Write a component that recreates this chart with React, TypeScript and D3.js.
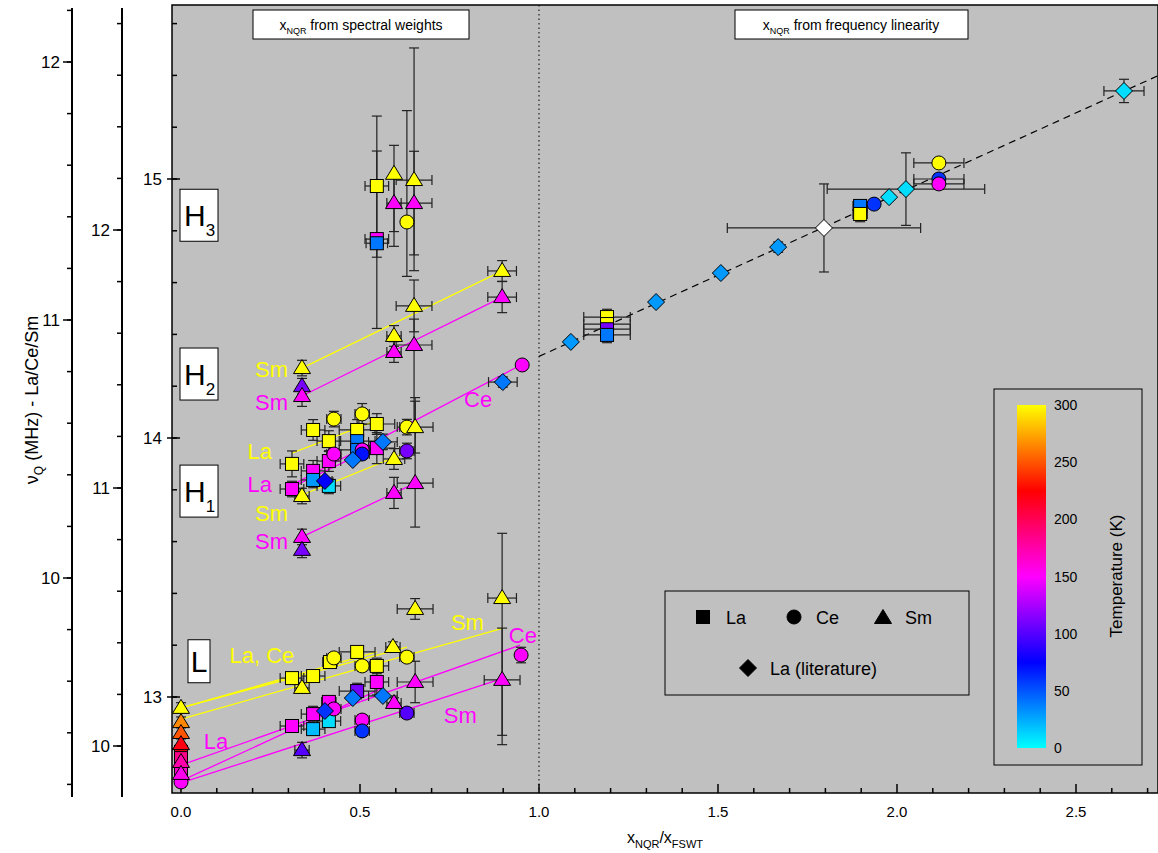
import React from "react";
import * as d3 from "d3";

// [x, nu, T, xerr, yerrLo, yerrHi]  (T<0 => white)
type P = [number, number, number, number?, number?, number?];

const squaresLa: P[] = [
  [0.547,14.973,300,0.033,0.55,0.27],[0.547,14.768,150,0.033,0.07,0.34],[0.547,14.752,40,0.03,0,0],
  [0.369,14.031,300,0.033,0.04,0.04],[0.492,14.031,300,0.05,0.04,0.04],[0.547,14.054,300,0.05,0.04,0.04],
  [0.413,13.988,300,0.033,0.04,0.04],[0.492,13.988,40,0.05,0.03,0.03],[0.492,13.954,40,0.05,0.03,0.03],
  [0.547,13.961,150,0.05,0.06,0.06],[0.413,13.911,150,0.033,0.04,0.04],[0.31,13.9,300,0.033,0.05,0.05],
  [0.369,13.873,150,0.033,0.04,0.04],[0.369,13.838,30,0.033,0.03,0.03],[0.413,13.815,10,0.033,0.03,0.03],
  [0.31,13.803,150,0.033,0.03,0.03],
  [0,12.788,220,0,0.02,0.02],[0,12.764,185,0,0.02,0.02],[0,12.722,165,0,0.02,0.02],
  [0.31,13.073,300,0.033,0.02,0.02],[0.369,13.081,300,0.033,0.02,0.02],[0.416,13.135,300,0.02,0.02,0.02],
  [0.492,13.174,300,0.05,0.02,0.02],[0.547,13.12,300,0.033,0.03,0.03],[0.547,13.058,150,0.033,0.05,0.05],
  [0.492,13.023,110,0.05,0.03,0.03],[0.413,12.981,150,0.02,0.02,0.02],[0.369,12.934,150,0.033,0.03,0.03],
  [0.413,12.907,10,0.033,0.02,0.02],[0.369,12.876,20,0.033,0.02,0.02],[0.31,12.888,150,0.033,0.02,0.02],
  [1.19,14.467,300,0.065,0.03,0.03],[1.19,14.44,300,0.065,0.02,0.02],[1.19,14.42,110,0.065,0.02,0.02],
  [1.19,14.398,40,0.065,0.03,0.03],[1.897,14.896,40,0.02,0.02,0.02],[1.897,14.865,300,0.02,0.03,0.03],
];

const circlesCe: P[] = [
  [0.631,14.834,300,0.01,0.21,0.43],
  [0.427,14.073,300,0.02,0.03,0.03],[0.506,14.093,300,0.02,0.04,0.04],[0.631,14.042,300,0.02,0.03,0.03],
  [0.427,13.938,150,0.02,0.02,0.02],[0.506,13.954,150,0.02,0.02,0.02],[0.506,13.938,70,0.02,0.02,0.02],
  [0.631,13.95,110,0.02,0.03,0.03],[0.953,14.282,150,0,0,0],
  [0,12.672,150,0,0.02,0.02],[0.427,13.151,300,0.02,0.02,0.02],[0.506,13.12,300,0.02,0.02,0.02],
  [0.631,13.154,300,0.02,0.02,0.02],[0.427,12.954,150,0.02,0.02,0.02],[0.631,12.938,100,0.02,0.02,0.02],
  [0.506,12.911,150,0.02,0.02,0.02],[0.506,12.869,60,0.02,0.02,0.02],[0.95,13.162,150,0,0.03,0.03],
  [1.936,14.903,60,0,0,0],[2.117,15.062,300,0.07,0,0],[2.117,15.0,60,0.07,0.02,0.02],[2.117,14.981,150,0.07,0.02,0.02],
];

const trianglesSm: P[] = [
  [0.595,15.02,300,0,0.28,0.11],[0.595,14.907,150,0.02,0.11,0.11],[0.651,14.996,300,0.05,0.35,0.51],
  [0.651,14.907,150,0.05,0.2,0.2],[0.651,14.51,300,0.05,0.1,0.1],[0.651,14.359,150,0.05,0.33,0.1],
  [0.595,14.394,300,0.02,0.04,0.04],[0.595,14.332,150,0.02,0.04,0.04],[0.897,14.645,300,0.04,0.04,0.04],
  [0.897,14.544,150,0.04,0.06,0.06],[0.338,14.27,300,0,0.03,0.03],[0.338,14.2,110,0,0.03,0.03],
  [0.338,14.162,150,0,0.04,0.04],
  [0.654,14.042,300,0.05,0.1,0.1],[0.595,13.919,300,0.03,0.04,0.04],[0.338,13.776,300,0.02,0.03,0.03],
  [0.595,13.788,150,0.02,0.06,0.06],[0.654,13.826,150,0.05,0.17,0.33],[0.338,13.618,150,0,0.03,0.03],
  [0.338,13.568,110,0,0.03,0.03],
  [0,12.958,300,0,0.02,0.02],[0,12.903,265,0,0.02,0.02],[0,12.861,250,0,0.02,0.02],[0,12.818,220,0,0.02,0.02],
  [0,12.749,175,0,0.02,0.02],[0,12.703,155,0,0.02,0.02],[0.338,13.035,300,0.02,0.02,0.02],
  [0.592,13.193,300,0.02,0.02,0.02],[0.654,13.34,300,0.05,0.04,0.04],[0.897,13.382,300,0.04,0.53,0.25],
  [0.654,13.058,150,0.05,0.08,0.08],[0.595,12.977,150,0.02,0.02,0.02],[0.338,12.795,100,0.02,0.03,0.03],
  [0.897,13.066,150,0.05,0.25,0.2],
];

const diamondsLit: P[] = [
  [0.899,14.216,40,0.04,0.02,0.02],[0.564,13.985,40,0.04,0.03,0.03],[0.402,13.834,75,0.02,0,0],
  [0.48,13.915,40,0,0,0],[0.48,12.996,40,0,0,0],[0.564,13.004,40,0.04,0,0],[0.402,12.946,60,0,0,0],
  [1.089,14.371,30,0,0,0],[1.327,14.525,30,0,0,0],[1.508,14.637,30,0,0,0],[1.668,14.737,30,0,0.02,0.02],
  [1.796,14.811,-1,0.27,0.17,0.17],[1.978,14.93,10,0,0.01,0.01],[2.025,14.961,10,0.22,0.14,0.14],
  [2.634,15.34,10,0.056,0.045,0.045],
];

// fit lines [x1, y1, x2, y2]
const fitsYellow: number[][] = [
  [0.338,14.27,0.897,14.645],[0.31,13.942,0.536,14.062],[0.338,13.78,0.654,13.958],
  [0,12.958,0.631,13.193],[0,12.958,0.547,13.174],[0,12.915,0.9,13.266],
];
const fitsMagenta: number[][] = [
  [0.338,14.162,0.897,14.544],[0.31,13.819,0.95,14.282],[0.31,13.81,0.58,13.99],
  [0.338,13.618,0.654,13.826],[0,12.737,0.947,13.2],[0,12.676,0.564,13.035],[0,12.668,0.886,13.066],
];
const trendLine = [1.0, 14.315, 2.75, 15.412];

// annotation labels [text, x, nu, colour]
const annotations: [string, number, number, string][] = [
  ["Sm",0.253,14.235,"#ffff00"],["Sm",0.253,14.108,"#ff00ff"],["La",0.22,13.92,"#ffff00"],
  ["La",0.22,13.79,"#ff00ff"],["Sm",0.253,13.68,"#ffff00"],["Sm",0.253,13.57,"#ff00ff"],
  ["Ce",0.83,14.12,"#ff00ff"],["La, Ce",0.226,13.13,"#ffff00"],["Sm",0.8,13.26,"#ffff00"],
  ["Ce",0.955,13.21,"#ff00ff"],["La",0.098,12.8,"#ff00ff"],["Sm",0.78,12.9,"#ff00ff"],
];
const regionBoxes: [string, string, number][] = [["H","3",14.86],["H","2",14.247],["H","1",13.795],["L","",13.14]];

const xTicks = [0, 0.5, 1.0, 1.5, 2.0, 2.5];
const yTicks = [13, 14, 15];
const axis2Ticks = [10, 11, 12];
const cbTicks = [0, 50, 100, 150, 200, 250, 300];

const W = 1158, H = 853;
const L = 172, R = 1158, T = 5, B = 793;
const x = d3.scaleLinear().domain([0, 1]).range([181, 539]);
const y = d3.scaleLinear().domain([13, 14]).range([697, 438]);
const yOuter = d3.scaleLinear().domain([10, 12]).range([578, 62]);
const yMid = d3.scaleLinear().domain([10, 12]).range([746, 230]);
const color = d3.scaleLinear<string>().domain([0, 75, 150, 225, 300])
  .range(["#00ffff", "#0000ff", "#ff00ff", "#ff0000", "#ffff00"]);
const cbY = d3.scaleLinear().domain([0, 300]).range([748, 405]);
const F = "Arial, 'Liberation Sans', sans-serif";

function marker(shape: string, cx: number, cy: number, fill: string, key: any) {
  const s = 7.5;
  if (shape === "sq") return <rect key={key} x={cx - s + 1} y={cy - s + 1} width={2 * s - 2} height={2 * s - 2} fill={fill} stroke="#000" />;
  if (shape === "ci") return <circle key={key} cx={cx} cy={cy} r={s - 0.5} fill={fill} stroke="#000" />;
  if (shape === "tr") return <path key={key} d={`M${cx},${cy - s - 1}L${cx + s + 1},${cy + s - 2}L${cx - s - 1},${cy + s - 2}Z`} fill={fill} stroke="#000" />;
  return <path key={key} d={`M${cx},${cy - s - 1}L${cx + s + 1},${cy}L${cx},${cy + s + 1}L${cx - s - 1},${cy}Z`} fill={fill} stroke="#000" />;
}

function errBars(d: P, k: string) {
  const [px, py, , xe = 0, yl = 0, yh = 0] = d;
  const cx = x(px), cy = y(py);
  const out: any[] = [];
  const st = { stroke: "#222", strokeWidth: 1.2 };
  if (xe > 0) {
    out.push(<line key={k + "x"} x1={x(px - xe)} x2={x(px + xe)} y1={cy} y2={cy} {...st} />);
    out.push(<line key={k + "xa"} x1={x(px - xe)} x2={x(px - xe)} y1={cy - 5} y2={cy + 5} {...st} />);
    out.push(<line key={k + "xb"} x1={x(px + xe)} x2={x(px + xe)} y1={cy - 5} y2={cy + 5} {...st} />);
  }
  if (yl > 0 || yh > 0) {
    out.push(<line key={k + "y"} x1={cx} x2={cx} y1={y(py - yl)} y2={y(py + yh)} {...st} />);
    out.push(<line key={k + "ya"} x1={cx - 5} x2={cx + 5} y1={y(py - yl)} y2={y(py - yl)} {...st} />);
    out.push(<line key={k + "yb"} x1={cx - 5} x2={cx + 5} y1={y(py + yh)} y2={y(py + yh)} {...st} />);
  }
  return out;
}

function sideAxis(ax: number, sc: d3.ScaleLinear<number, number>, ticks: number[], key: string) {
  const [d0, d1] = [sc.invert(797), sc.invert(8)];
  const minors = d3.range(Math.ceil(d0 * 5) / 5, d1, 0.2);
  return (
    <g key={key}>
      <line x1={ax} x2={ax} y1={8} y2={797} stroke="#000" strokeWidth={2} />
      {minors.map((v, i) => <line key={i} x1={ax - 5} x2={ax} y1={sc(v)} y2={sc(v)} stroke="#000" strokeWidth={1.5} />)}
      {ticks.map(v => (
        <g key={v}>
          <line x1={ax - 9} x2={ax} y1={sc(v)} y2={sc(v)} stroke="#000" strokeWidth={1.5} />
          <text x={ax - 12} y={sc(v) + 6} textAnchor="end" fontSize={17} fontFamily={F}>{v}</text>
        </g>
      ))}
    </g>
  );
}

export default function App() {
  const groups: [string, P[]][] = [["sq", squaresLa], ["ci", circlesCe], ["tr", trianglesSm], ["di", diamondsLit]];
  const xMinor = d3.range(0, 2.75, 0.1);
  const yMinor = d3.range(12.8, 15.61, 0.2);
  return (
    <svg width={W} height={H} style={{ position: "fixed", left: 0, top: 0, background: "#fff" }}>
      <defs>
        <clipPath id="pc"><rect x={L} y={T} width={R - L} height={B - T} /></clipPath>
        <linearGradient id="cb" x1="0" y1="1" x2="0" y2="0">
          {[0, 75, 150, 225, 300].map(t => <stop key={t} offset={t / 300} stopColor={color(t)} />)}
        </linearGradient>
      </defs>
      <rect x={L} y={T} width={R - L} height={B - T} fill="#c0c0c0" stroke="#000" strokeWidth={1.5} />
      {sideAxis(72, yOuter, axis2Ticks, "o")}
      {sideAxis(122, yMid, axis2Ticks, "m")}
      {xMinor.map((v, i) => <line key={"xm" + i} x1={x(v)} x2={x(v)} y1={B} y2={B - (Math.abs(v * 2 - Math.round(v * 2)) < 1e-6 ? 9 : 5)} stroke="#000" strokeWidth={1.5} />)}
      {xTicks.map(v => <text key={"xt" + v} x={x(v)} y={B + 24} textAnchor="middle" fontSize={15} fontFamily={F}>{v.toFixed(1)}</text>)}
      {yMinor.map((v, i) => <line key={"ym" + i} x1={L} x2={L + 5} y1={y(v)} y2={y(v)} stroke="#000" strokeWidth={1.5} />)}
      {yTicks.map(v => (
        <g key={"yt" + v}>
          <line x1={L - 5} x2={L + 8} y1={y(v)} y2={y(v)} stroke="#000" strokeWidth={1.5} />
          <text x={L - 10} y={y(v) + 6} textAnchor="end" fontSize={17} fontFamily={F}>{v}</text>
        </g>
      ))}
      <text x={665} y={843} textAnchor="middle" fontSize={16} fontFamily={F}>x<tspan fontSize={11} dy={5}>NQR</tspan><tspan dy={-5}>/x</tspan><tspan fontSize={11} dy={5}>FSWT</tspan></text>
      <text transform="translate(38,400) rotate(-90)" textAnchor="middle" fontSize={18} fontFamily={F}>ν<tspan fontSize={12} dy={5}>Q</tspan><tspan dy={-5}> (MHz) - La/Ce/Sm</tspan></text>

      <g clipPath="url(#pc)">
        <line x1={x(1)} x2={x(1)} y1={T} y2={B} stroke="#000" strokeDasharray="1.5,3" />
        <line x1={x(trendLine[0])} y1={y(trendLine[1])} x2={x(trendLine[2])} y2={y(trendLine[3])} stroke="#000" strokeDasharray="7,5" strokeWidth={1.2} />
        {fitsYellow.map((f, i) => <line key={"fy" + i} x1={x(f[0])} y1={y(f[1])} x2={x(f[2])} y2={y(f[3])} stroke="#ffff00" strokeWidth={1.3} />)}
        {fitsMagenta.map((f, i) => <line key={"fm" + i} x1={x(f[0])} y1={y(f[1])} x2={x(f[2])} y2={y(f[3])} stroke="#ff00ff" strokeWidth={1.3} />)}
        {groups.map(([s, arr]) => arr.map((d, i) => errBars(d, s + i)))}
        {groups.map(([s, arr]) => arr.map((d, i) => marker(s, x(d[0]), y(d[1]), d[2] < 0 ? "#ffffff" : color(d[2]), s + "m" + i)))}
        {annotations.map(([t, ax, ay, c], i) => <text key={"an" + i} x={x(ax)} y={y(ay)} fill={c} fontSize={22} fontFamily={F} textAnchor="middle">{t}</text>)}
      </g>

      {regionBoxes.map(([a, sub, v]) => (
        a === "L" ? (
          <g key={a}>
            <rect x={188} y={y(v) - 21} width={22} height={43} fill="#fff" stroke="#000" />
            <text x={199} y={y(v) + 11} textAnchor="middle" fontSize={30} fontFamily={F}>L</text>
          </g>
        ) : (
          <g key={a + sub}>
            <rect x={180} y={y(v) - 26} width={38} height={52} fill="#fff" stroke="#000" />
            <text x={184} y={y(v) + 11} fontSize={30} fontFamily={F}>{a}<tspan fontSize={17} dy={10}>{sub}</tspan></text>
          </g>
        )
      ))}

      <rect x={253} y={10} width={216} height={29} fill="#fff" stroke="#000" />
      <text x={361} y={30} textAnchor="middle" fontSize={14} fontFamily={F}>x<tspan fontSize={9} dy={4}>NQR</tspan><tspan dy={-4}> from spectral weights</tspan></text>
      <rect x={735} y={10} width={233} height={29} fill="#fff" stroke="#000" />
      <text x={851} y={30} textAnchor="middle" fontSize={14} fontFamily={F}>x<tspan fontSize={9} dy={4}>NQR</tspan><tspan dy={-4}> from frequency linearity</tspan></text>

      <rect x={665} y={591} width={304} height={104} fill="none" stroke="#000" />
      {marker("sq", 703, 617, "#000", "l1")}
      <text x={726} y={624} fontSize={18} fontFamily={F}>La</text>
      {marker("ci", 794, 617, "#000", "l2")}
      <text x={816} y={624} fontSize={18} fontFamily={F}>Ce</text>
      {marker("tr", 883, 618, "#000", "l3")}
      <text x={905} y={624} fontSize={18} fontFamily={F}>Sm</text>
      {marker("di", 748, 668, "#000", "l4")}
      <text x={770} y={675} fontSize={18} fontFamily={F}>La (literature)</text>

      <rect x={994} y={389} width={148} height={376} fill="#c0c0c0" stroke="#000" />
      <rect x={1017} y={405} width={29} height={343} fill="url(#cb)" />
      {cbTicks.map(t => <text key={"cb" + t} x={1054} y={cbY(t) + 5} fontSize={14} fontFamily={F}>{t}</text>)}
      <text transform="translate(1122,576) rotate(-90)" textAnchor="middle" fontSize={17} fontFamily={F}>Temperature (K)</text>
    </svg>
  );
}
